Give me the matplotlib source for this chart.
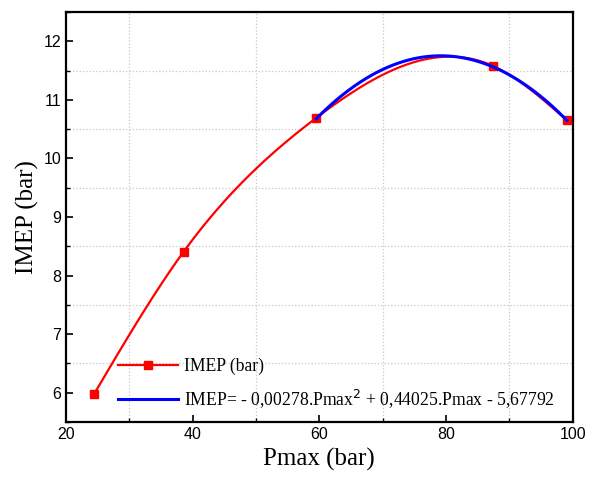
import numpy as np
import matplotlib.pyplot as plt
from matplotlib.ticker import MultipleLocator

pmax = [24.4, 38.6, 59.5, 87.5, 99.1]
imep = [5.97, 8.41, 10.69, 11.575, 10.65]

# quadratic fit shown in the legend
a2, a1, a0 = -0.00278, 0.44025, -5.67792
fit_range = [59.5, 99.1]


def natural_spline(x, y, n=300):
    # natural cubic spline through the points, like Origin's B-spline connector
    x = np.asarray(x, float)
    y = np.asarray(y, float)
    k = len(x)
    h = np.diff(x)
    A = np.zeros((k, k))
    r = np.zeros(k)
    A[0, 0] = A[-1, -1] = 1
    for i in range(1, k - 1):
        A[i, i - 1] = h[i - 1]
        A[i, i] = 2 * (h[i - 1] + h[i])
        A[i, i + 1] = h[i]
        r[i] = 6 * ((y[i + 1] - y[i]) / h[i] - (y[i] - y[i - 1]) / h[i - 1])
    m = np.linalg.solve(A, r)
    xs = np.linspace(x[0], x[-1], n)
    idx = np.clip(np.searchsorted(x, xs) - 1, 0, k - 2)
    t0 = x[idx + 1] - xs
    t1 = xs - x[idx]
    hh = h[idx]
    ys = (m[idx] * t0**3 + m[idx + 1] * t1**3) / (6 * hh) \
        + (y[idx] / hh - m[idx] * hh / 6) * t0 \
        + (y[idx + 1] / hh - m[idx + 1] * hh / 6) * t1
    return xs, ys


fig = plt.figure(figsize=(5.94, 4.79), dpi=100)
ax = fig.add_axes([0.111, 0.119, 0.853, 0.856])

xs, ys = natural_spline(pmax, imep)
ax.plot(xs, ys, color='red', lw=1.6, zorder=3)
ax.plot(pmax, imep, 's', color='red', ms=6, zorder=4)
# proxy for the legend entry with marker
ax.plot([], [], '-s', color='red', lw=1.6, ms=6, label='IMEP (bar)')

xf = np.linspace(fit_range[0], fit_range[1], 200)
ax.plot(xf, a2 * xf**2 + a1 * xf + a0, color='blue', lw=2.2, zorder=5,
        label='IMEP= - 0,00278.Pmax$^2$ + 0,44025.Pmax - 5,67792')

ax.set_xlim(20, 100)
ax.set_ylim(5.5, 12.5)
ax.xaxis.set_major_locator(MultipleLocator(20))
ax.xaxis.set_minor_locator(MultipleLocator(10))
ax.yaxis.set_major_locator(MultipleLocator(1))
ax.yaxis.set_minor_locator(MultipleLocator(0.5))
ax.grid(which='minor', color='#c8c8c8', linestyle=':', lw=0.9)
ax.tick_params(which='both', direction='in', top=False, right=False)
ax.tick_params(which='major', length=5, width=1.2, labelsize=11.5)
ax.tick_params(which='minor', length=3, width=1.0)
for lab in ax.get_xticklabels() + ax.get_yticklabels():
    lab.set_family('Liberation Sans')
for s in ax.spines.values():
    s.set_linewidth(1.6)

ax.set_xlabel('Pmax (bar)', family='Liberation Serif', fontsize=18, labelpad=4)
ax.set_ylabel('IMEP (bar)', family='Liberation Serif', fontsize=18, labelpad=3)

ax.legend(loc='lower left', bbox_to_anchor=(0.072, -0.01), frameon=False,
          prop={'family': 'Liberation Serif', 'size': 12.7},
          handlelength=3.4, handletextpad=0.3, labelspacing=0.7)

fig.savefig('out.png', dpi=100)
